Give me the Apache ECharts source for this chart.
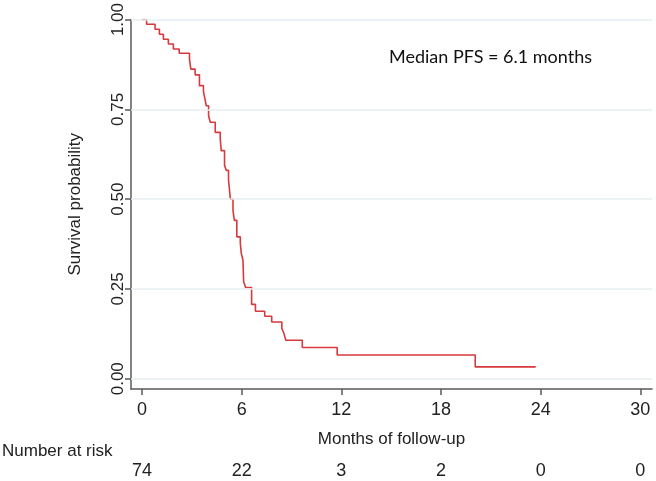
<!DOCTYPE html>
<html>
<head>
<meta charset="utf-8">
<script src="https://cdn.jsdelivr.net/npm/echarts@6/dist/echarts.min.js"></script>
<style>
  html, body { margin: 0; padding: 0; background: #fff; }
  #km { width: 656px; height: 481px; }
</style>
</head>
<body>
<div id="km"></div>
<script>
// Kaplan-Meier steps (time in months, survival after each drop)
var kmTime = [0, 0.28, 0.79, 1.05, 1.29, 1.59, 1.89, 2.24, 2.86, 2.94, 3.2, 3.46, 3.7, 3.81, 3.87, 4.01, 4.11, 4.41,
              4.71, 4.77, 4.97, 5.08, 5.21, 5.32, 5.48, 5.56, 5.71, 5.92, 5.98, 6.08, 6.12, 6.24, 6.6, 6.83, 7.39, 7.81,
              8.42, 8.54, 8.66, 9.65, 11.75, 20.06, 23.7];
var kmSurv = [1, 0.987, 0.973, 0.959, 0.945, 0.932, 0.918, 0.906, 0.89, 0.862, 0.846, 0.816, 0.8, 0.774, 0.76, 0.732, 0.714, 0.686,
              0.669, 0.635, 0.594, 0.58, 0.554, 0.5, 0.468, 0.441, 0.395, 0.377, 0.349, 0.33, 0.27, 0.254, 0.207, 0.188, 0.174, 0.158,
              0.14, 0.127, 0.107, 0.087, 0.066, 0.033, 0.033];
var xTicks = [0, 6, 12, 18, 24, 30];
var yTicks = [0, 0.25, 0.5, 0.75, 1];
var atRisk = [74, 22, 3, 2, 0, 0];

var txtFont = '"Liberation Sans", Arial, sans-serif';
var axisGrey = '#5a5a5a';

$ = window.$ || function (f) { f(); };
$(function () {
    var myChart = echarts.init(document.getElementById('km'));

    var kmData = [];
    for (var i = 0; i < kmTime.length; i++) {
        kmData.push([kmTime[i], kmSurv[i]]);
    }
    var gridLines = yTicks.map(function (v) { return { yAxis: v }; });

    option = {
        backgroundColor: '#ffffff',
        animation: false,
        title: [
            {
                text: 'Median PFS = 6.1 months',
                left: 384, top: 43,
                textStyle: { fontFamily: 'Lato, "Open Sans", sans-serif', fontSize: 18, fontWeight: 'normal', color: '#111' }
            },
            {
                text: 'Number at risk',
                left: -3, top: 438,
                textStyle: { fontFamily: txtFont, fontSize: 17, fontWeight: 'normal', color: '#222' }
            }
        ],
        grid: { left: 131, right: 4, top: 18, bottom: 92, containLabel: false },
        xAxis: [
            {
                type: 'value',
                min: -0.66, max: 30.7,
                name: 'Months of follow-up',
                nameLocation: 'middle',
                nameGap: 42,
                nameTextStyle: { fontFamily: txtFont, fontSize: 17, color: '#222' },
                axisLine: { onZero: false, lineStyle: { color: axisGrey, width: 1.5 } },
                axisTick: { customValues: xTicks, length: 6, lineStyle: { color: axisGrey, width: 1.5 } },
                axisLabel: { customValues: xTicks, margin: 12, fontFamily: txtFont, fontSize: 18, color: '#222' },
                splitLine: { show: false }
            },
            {
                // number-at-risk row
                type: 'value',
                position: 'bottom',
                min: -0.66, max: 30.7,
                axisLine: { show: false },
                axisTick: { show: false },
                axisLabel: {
                    customValues: xTicks, margin: 73, fontFamily: txtFont, fontSize: 18, color: '#222',
                    formatter: function (v) { return String(atRisk[xTicks.indexOf(v)]); }
                },
                splitLine: { show: false }
            }
        ],
        yAxis: {
            type: 'value',
            min: -0.0286, max: 1,
            name: 'Survival probability',
            nameLocation: 'middle',
            nameGap: 47,
            nameTextStyle: { fontFamily: txtFont, fontSize: 17, color: '#222' },
            axisLine: { onZero: false, lineStyle: { color: axisGrey, width: 1.5 } },
            axisTick: { customValues: yTicks, length: 6, lineStyle: { color: axisGrey, width: 1.5 } },
            axisLabel: {
                customValues: yTicks, rotate: 90, margin: 4, fontFamily: txtFont, fontSize: 17, color: '#222',
                formatter: function (v) { return v.toFixed(2); }
            },
            splitLine: { show: false }
        },
        series: [
            { // grid lines
                type: 'line',
                data: [],
                z: 1,
                markLine: {
                    silent: true,
                    symbol: ['none', 'none'],
                    label: { show: false },
                    lineStyle: { color: '#e7eff1', type: 'solid', width: 1.5 },
                    data: gridLines
                }
            },
            {
                type: 'line',
                step: 'end',
                showSymbol: false,
                z: 3,
                lineStyle: { color: '#d8393c', width: 1.6 },
                data: kmData
            }
        ]
    };
    if (option && typeof option === "object") {
        myChart.setOption(option, true);
    }
});
</script>
</body>
</html>
